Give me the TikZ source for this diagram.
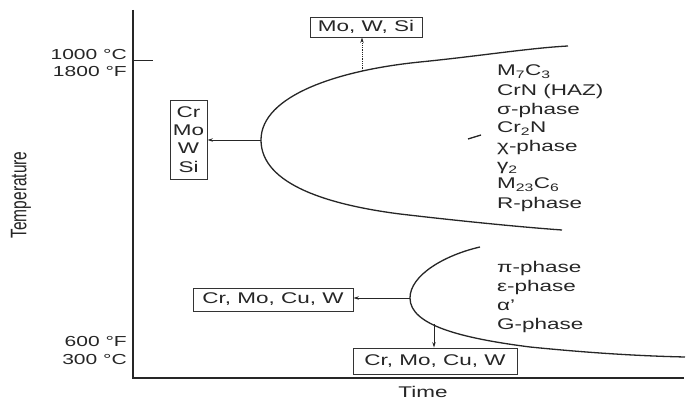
\documentclass[tikz,border=0pt]{standalone}
\usepackage{fontspec}
\usepackage{graphicx}
\setmainfont{Liberation Sans}[FakeStretch=1.45]
\newfontfamily\plainfont{Liberation Sans}
\usetikzlibrary{arrows.meta}
\tikzset{
  axis/.style={line width=1.4pt, draw=black!85},
  curve/.style={line width=1.3pt, draw=black!85},
  lbl/.style={font=\fontsize{15.5}{18}\selectfont, text=black!85, inner sep=0pt},
  tlbl/.style={font=\fontsize{14.5}{16}\selectfont, text=black!85, inner sep=0pt, anchor=east},
  phase/.style={lbl, anchor=base west},
  elbox/.style={lbl, draw=black!80, line width=0.9pt, inner sep=0pt, align=center},
  arr/.style={line width=0.8pt, draw=black!85, -{Stealth[length=5.5pt,width=3.5pt]}}
}
\begin{document}
\begin{tikzpicture}[x=1pt,y=-1pt]
\useasboundingbox (0,0) rectangle (697,403);
\fill[white] (0,0) rectangle (697,403);
% axes
\coordinate (top) at (133,10);
\coordinate (orig) at (133,378);
\coordinate (xend) at (684,378);
\coordinate (tickA) at (133,61);
\coordinate (tickB) at (153,61);
\draw[axis] (top) -- (orig) -- (xend);
\draw[line width=1pt, draw=black!85] (tickA) -- (tickB);
% axis labels
\node[tlbl] (t1000) at (127,55) {1000 °C};
\node[tlbl] (t1800) at (127,72) {1800 °F};
\node[tlbl] (t600) at (127,342) {600 °F};
\node[tlbl] (t300) at (127,360) {300 °C};
\node[inner sep=0pt, rotate=90, text=black!85] (temp) at (21,195) {\scalebox{1}[1.45]{\plainfont\fontsize{15.5}{18}\selectfont Temperature}};
\node[lbl] (time) at (423,392) {Time};
% upper C-curve
\coordinate (nose1) at (261,140);
\coordinate (foot1) at (362,71);
\draw[curve] (568,46) .. controls (530,48) and (480,56) .. (420,62)
  .. controls (340,70) and (261,95) .. (nose1)
  .. controls (261,185) and (330,205) .. (400,214)
  .. controls (460,221) and (520,227) .. (562,230);
% lower C-curve
\coordinate (nose2) at (410,298);
\coordinate (foot2) at (434,324);
\draw[curve] (480,247) .. controls (445,255) and (410,275) .. (nose2)
  .. controls (410,325) and (460,338) .. (530,347)
  .. controls (590,353) and (640,356) .. (685,357);
% boxes
\node[elbox, minimum width=112pt, minimum height=20pt] (mws) at (366,27) {Mo, W, Si};
\node[elbox, minimum width=37pt, minimum height=79pt, font=\fontsize{15.5}{18.3}\selectfont] (cmws) at (188.5,139.5) {Cr\\Mo\\W\\Si};
\node[elbox, minimum width=160pt, minimum height=23pt] (cmcw1) at (273,299.5) {Cr, Mo, Cu, W};
\node[elbox, minimum width=164pt, minimum height=26pt] (cmcw2) at (435,361) {Cr, Mo, Cu, W};
% arrows
\draw[arr, densely dotted] (foot1) -- (foot1 |- mws.south);
\draw[arr] (nose1) -- (cmws.east |- nose1);
\draw[arr] (nose2) -- (cmcw1.east |- nose2);
\draw[arr] (foot2) -- (foot2 |- cmcw2.north);
% stray mark
\coordinate (m1) at (468,139);
\coordinate (m2) at (481,135);
\draw[line width=1.3pt, draw=black!85] (m1) -- (m2);
% upper phase list
\node[phase] (p1) at (497,75.5) {M\textsubscript{7}C\textsubscript{3}};
\node[phase] (p2) at (497,95.5) {CrN (HAZ)};
\node[phase] (p3) at (497,115) {σ-phase};
\node[phase] (p4) at (497,133) {Cr\textsubscript{2}N};
\node[phase] (p5) at (497,151.5) {χ-phase};
\node[phase] (p6) at (497,170.5) {γ\textsubscript{2}};
\node[phase] (p7) at (497,189) {M\textsubscript{23}C\textsubscript{6}};
\node[phase] (p8) at (497,208.5) {R-phase};
% lower phase list
\node[phase] (q1) at (497,272.5) {π-phase};
\node[phase] (q2) at (497,291.5) {ε-phase};
\node[phase] (q3) at (497,310.5) {α'};
\node[phase] (q4) at (497,329.5) {G-phase};
\end{tikzpicture}
\end{document}
